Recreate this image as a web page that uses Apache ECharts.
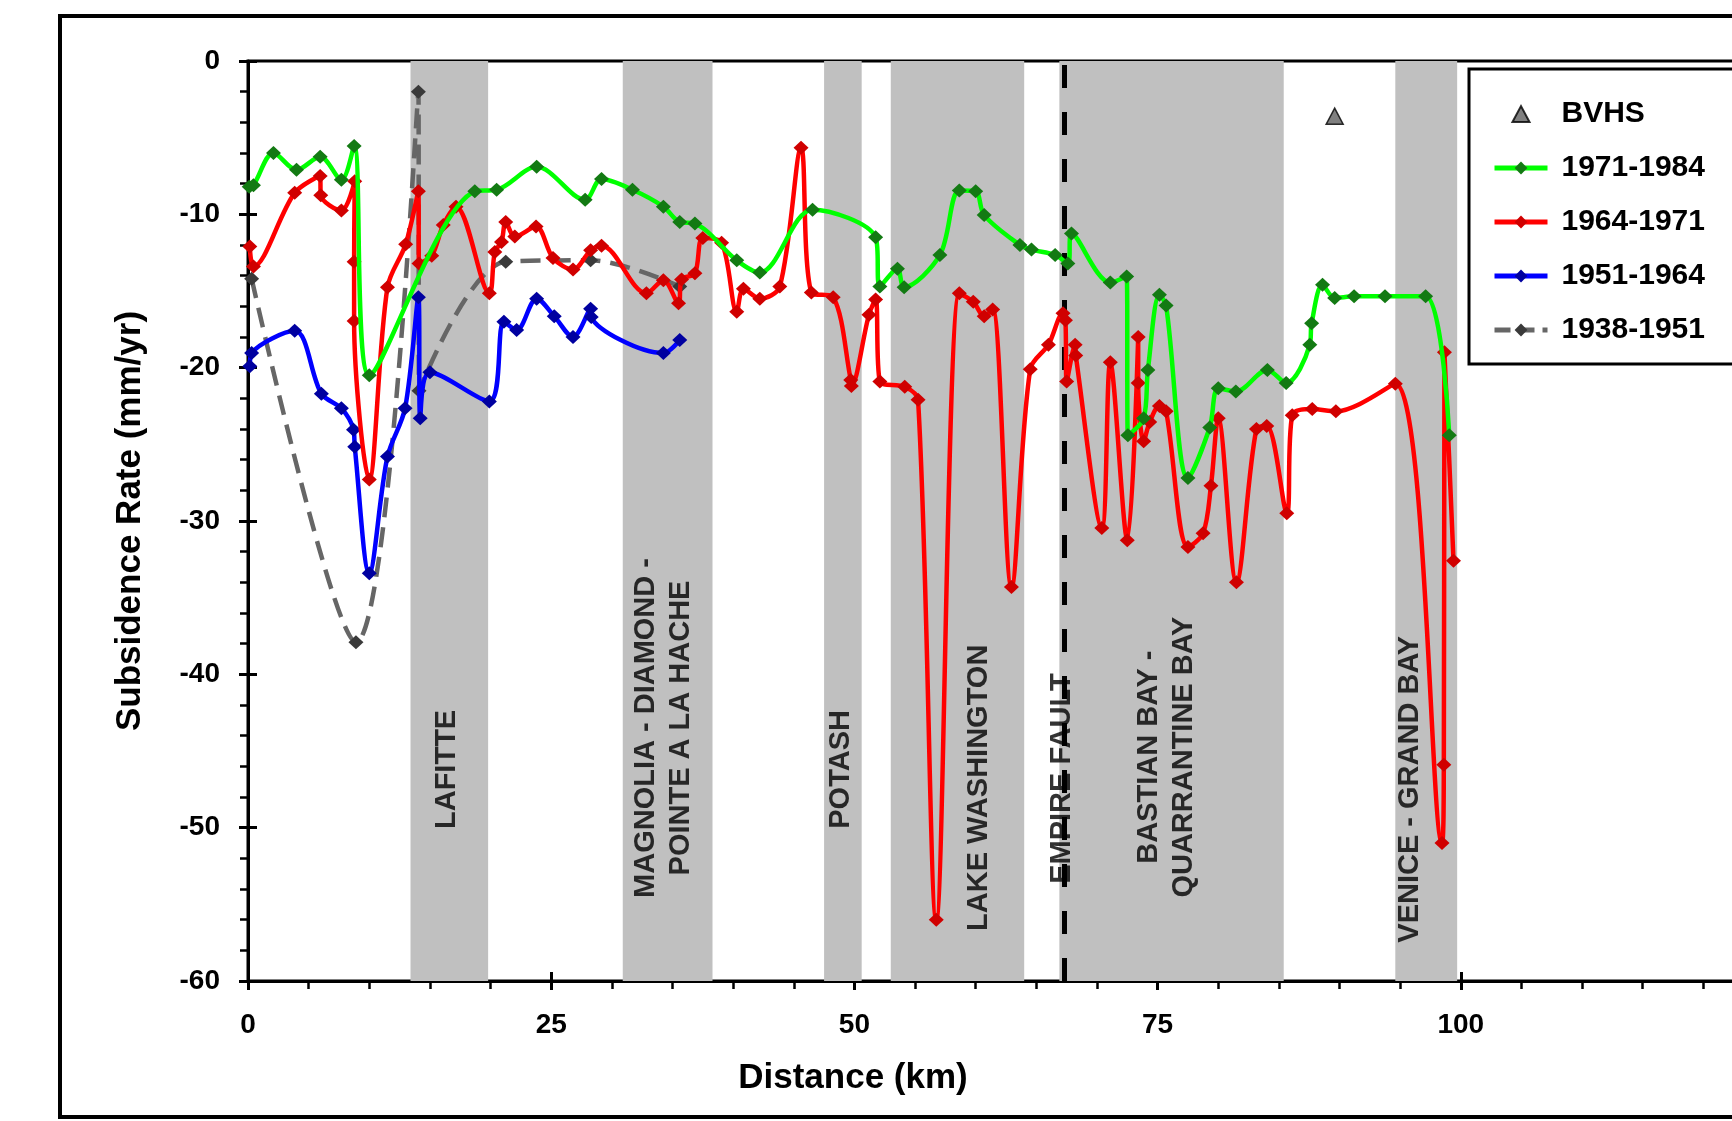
<!DOCTYPE html>
<html>
<head>
<meta charset="utf-8">
<script src="https://cdn.jsdelivr.net/npm/echarts@6/dist/echarts.min.js"></script>
<style>
html,body{margin:0;padding:0;background:#fff;}
#chart{width:1732px;height:1121px;}
</style>
</head>
<body>
<div id="chart"></div>
<script>
// ---- Data (distance km, subsidence rate mm/yr) ----
const s1971_1984 = [[0.1,-8.2],[0.45,-8.1],[2.1,-6.0],[4.0,-7.1],[5.95,-6.25],[7.7,-7.75],[8.75,-5.55],[10.0,-20.5],[18.7,-8.5],[20.5,-8.4],[23.8,-6.9],[27.8,-9.05],[29.15,-7.7],[31.7,-8.4],[34.25,-9.5],[35.6,-10.5],[36.85,-10.6],[40.3,-13.0],[42.2,-13.8],[46.55,-9.7],[51.75,-11.5],[52.1,-14.7],[53.55,-13.55],[54.1,-14.75],[57.05,-12.65],[58.65,-8.45],[60.0,-8.5],[60.7,-10.05],[63.65,-12.0],[64.6,-12.3],[66.55,-12.65],[67.6,-13.2],[67.9,-11.25],[71.1,-14.45],[72.45,-14.05],[72.55,-24.4],[73.85,-23.3],[74.2,-20.15],[75.15,-15.25],[75.7,-15.95],[77.5,-27.2],[79.3,-23.9],[80.0,-21.35],[81.45,-21.55],[84.05,-20.15],[85.6,-21.0],[87.55,-18.5],[87.7,-17.1],[88.6,-14.6],[89.6,-15.45],[91.2,-15.35],[93.75,-15.35],[97.1,-15.35],[99.05,-24.4]];
const s1964_1971 = [[0.15,-12.1],[0.45,-13.4],[3.85,-8.6],[5.95,-7.5],[6.0,-8.75],[7.7,-9.75],[8.8,-7.85],[8.75,-13.1],[8.75,-16.95],[10.0,-27.3],[11.5,-14.75],[13.0,-11.95],[14.05,-8.5],[14.1,-13.2],[15.15,-12.7],[16.1,-10.7],[17.15,-9.5],[19.9,-15.15],[20.35,-12.45],[20.9,-11.8],[21.25,-10.5],[22.0,-11.45],[23.75,-10.8],[25.15,-12.85],[26.8,-13.6],[28.25,-12.35],[29.15,-12.05],[32.85,-15.15],[34.25,-14.3],[35.5,-15.8],[35.75,-14.25],[36.85,-13.85],[37.5,-11.55],[39.05,-11.85],[40.3,-16.35],[40.85,-14.85],[42.2,-15.5],[43.85,-14.7],[45.6,-5.65],[46.45,-15.1],[48.25,-15.4],[49.7,-20.8],[49.75,-21.2],[51.2,-16.55],[51.75,-15.55],[52.1,-20.9],[54.15,-21.25],[55.25,-22.1],[56.75,-56.0],[58.65,-15.15],[59.8,-15.7],[60.7,-16.65],[61.4,-16.2],[62.95,-34.3],[64.5,-20.1],[66.0,-18.5],[67.2,-16.45],[67.4,-16.9],[67.5,-20.9],[68.2,-18.5],[68.25,-19.2],[70.4,-30.45],[71.1,-19.65],[72.5,-31.25],[73.4,-18.0],[73.4,-21.0],[73.85,-24.8],[74.35,-23.55],[75.15,-22.5],[75.7,-22.85],[77.5,-31.7],[78.75,-30.8],[79.4,-27.7],[80.0,-23.3],[81.5,-34.0],[83.15,-24.0],[84.0,-23.8],[85.65,-29.5],[86.1,-23.1],[87.75,-22.7],[89.7,-22.85],[94.6,-21.05],[98.45,-51.0],[98.6,-45.9],[98.65,-19.0],[99.4,-32.6]];
const s1951_1964 = [[0.15,-19.9],[0.3,-19.05],[3.85,-17.6],[6.05,-21.7],[7.7,-22.65],[8.7,-24.05],[8.8,-25.15],[10.0,-33.4],[11.5,-25.8],[12.95,-22.65],[14.05,-15.4],[14.2,-23.3],[15.0,-20.3],[19.9,-22.2],[21.1,-17.0],[22.15,-17.55],[23.8,-15.5],[25.25,-16.65],[26.8,-18.0],[28.25,-16.15],[28.3,-16.7],[34.25,-19.05],[35.6,-18.2]];
const s1938_1951 = [[0.3,-14.2],[8.9,-37.9],[14.05,-2.0],[14.1,-21.5],[21.25,-13.1],[28.25,-13.0],[35.6,-14.7]];
const bvhs = [[89.6,-3.6]];

const bandStart = [13.4, 30.9, 47.5, 53.0, 66.9, 94.6];
const bandEnd   = [19.8, 38.3, 50.6, 64.0, 85.4, 99.7];
const faultX = 67.3;

const regionNames = ['LAFITTE', 'MAGNOLIA - DIAMOND -\nPOINTE A LA HACHE', 'POTASH', 'LAKE WASHINGTON', 'EMPIRE FAULT', 'BASTIAN BAY -\nQUARRANTINE BAY', 'VENICE - GRAND BAY'];
const regionLabelX = [16.4, 34.3, 48.9, 60.25, 67.15, 75.7, 95.8];
const regionLabelY = [-46.2, -43.5, -46.2, -47.4, -46.8, -45.4, -47.5];

const xTicks = {min: 0, max: 125, interval: 25};
const yTicks = {min: -60, max: 0, interval: 10};
const legendNames = ['BVHS', '1971-1984', '1964-1971', '1951-1964', '1938-1951'];

// ---- Chart ----
const FONT = "'Liberation Sans', Arial, Helvetica, sans-serif";
const chart = echarts.init(document.getElementById('chart'), null, {renderer: 'canvas'});

function lineSeries(name, data, lineColor, markColor, z, dashed) {
  return {
    name: name, type: 'line', data: data, smooth: 0.33, z: z,
    symbol: 'diamond', symbolSize: [15, 14], showAllSymbol: true,
    lineStyle: {color: lineColor, width: 4.5, type: dashed ? [20, 10] : 'solid'},
    itemStyle: {color: markColor},
    emphasis: {disabled: true}
  };
}

const legendData = legendNames.map(n => {
  if (n === 'BVHS') return {name: n, icon: 'path://M0 15 L8 0 L16 15 Z'};
  if (n === '1938-1951') return {name: n, lineStyle: {width: 5, type: [16, 8]}};
  return {name: n, lineStyle: {width: 5}};
});

const option = {
  animation: false,
  textStyle: {fontFamily: FONT},
  graphic: [{
    type: 'rect', z: 0, silent: true,
    shape: {x: 60, y: 16, width: 1800, height: 1101},
    style: {fill: 'none', stroke: '#000', lineWidth: 4}
  }],
  grid: {left: 248, width: 1516, top: 61, height: 920, outerBoundsMode: 'none', containLabel: false,
         show: true, borderColor: '#000', borderWidth: 3, backgroundColor: 'transparent'},
  legend: {
    data: legendData, orient: 'vertical', left: 1469, top: 69,
    padding: [30, 80, 19, 23], itemGap: 24, itemWidth: 53, itemHeight: 16,
    borderColor: '#000', borderWidth: 3, backgroundColor: '#fff',
    textStyle: {fontSize: 30, fontWeight: 'bold', color: '#000', fontFamily: FONT, padding: [0, 0, 0, 9], lineHeight: 30},
    selectedMode: false
  },
  xAxis: [{
    type: 'value', min: xTicks.min, max: xTicks.max, interval: xTicks.interval, position: 'bottom',
    name: 'Distance (km)', nameLocation: 'middle', nameGap: 80,
    nameTextStyle: {fontSize: 35, fontWeight: 'bold', color: '#000', fontFamily: FONT, padding: [0, 306, 0, 0]},
    axisLine: {onZero: false, lineStyle: {color: '#000', width: 3}},
    axisTick: {length: 9, lineStyle: {color: '#000', width: 3}},
    minorTick: {show: true, splitNumber: 5, length: 8, lineStyle: {color: '#000', width: 2.5}},
    axisLabel: {fontSize: 28, fontWeight: 'bold', color: '#000', margin: 30, fontFamily: FONT},
    splitLine: {show: false}
  }, {
    type: 'value', min: xTicks.min, max: xTicks.max, interval: xTicks.interval, position: 'bottom',
    axisLine: {show: false, onZero: false},
    axisTick: {inside: true, length: 9, lineStyle: {color: '#000', width: 3}},
    axisLabel: {show: false}, splitLine: {show: false}
  }],
  yAxis: [{
    type: 'value', min: yTicks.min, max: yTicks.max, interval: yTicks.interval, position: 'left',
    name: 'Subsidence Rate (mm/yr)', nameLocation: 'middle', nameGap: 100, nameRotate: 90,
    nameTextStyle: {fontSize: 35, fontWeight: 'bold', color: '#000', fontFamily: FONT},
    axisLine: {show: true, onZero: false, lineStyle: {color: '#000', width: 3}},
    axisTick: {show: true, length: 9, lineStyle: {color: '#000', width: 3}},
    minorTick: {show: true, splitNumber: 5, length: 8, lineStyle: {color: '#000', width: 2.5}},
    axisLabel: {fontSize: 28, fontWeight: 'bold', color: '#000', margin: 28, fontFamily: FONT},
    splitLine: {show: false}
  }, {
    type: 'value', min: yTicks.min, max: yTicks.max, interval: yTicks.interval, position: 'left',
    axisLine: {show: false, onZero: false},
    axisTick: {show: true, inside: true, length: 9, lineStyle: {color: '#000', width: 3}},
    axisLabel: {show: false}, splitLine: {show: false}
  }],
  series: [
    {
      name: 'bands', type: 'line', data: [], z: 1, silent: true,
      markArea: {
        silent: true,
        itemStyle: {color: '#c0c0c0'},
        data: bandStart.map((s, i) => [{xAxis: s}, {xAxis: bandEnd[i]}])
      },
      markLine: {
        silent: true, symbol: ['none', 'none'],
        label: {show: false},
        lineStyle: {color: '#000', width: 5, type: [23, 24]},
        data: [{xAxis: faultX}]
      }
    },
    {
      name: 'regions', type: 'scatter', z: 2, silent: true,
      symbol: 'circle', symbolSize: 2, itemStyle: {color: 'rgba(0,0,0,0)'},
      labelLayout: {hideOverlap: false},
      data: regionNames.map((n, i) => ({name: n, value: [regionLabelX[i], regionLabelY[i]]})),
      label: {
        show: true, position: 'inside', rotate: 90, formatter: p => p.name,
        fontSize: 29, fontWeight: 'bold', color: '#000', fontFamily: FONT, lineHeight: 35, align: 'center', verticalAlign: 'middle'
      }
    },
    lineSeries('1938-1951', s1938_1951, '#666666', '#3a3a3a', 3, true),
    lineSeries('1951-1964', s1951_1964, '#0000ff', '#0000a0', 4, false),
    lineSeries('1964-1971', s1964_1971, '#ff0000', '#d00000', 5, false),
    lineSeries('1971-1984', s1971_1984, '#00ff00', '#137a13', 6, false),
    {
      name: 'BVHS', type: 'scatter', data: bvhs, z: 7,
      symbol: 'triangle', symbolSize: [17, 16],
      itemStyle: {color: '#606060', borderColor: '#000', borderWidth: 1.5}
    }
  ]
};
chart.setOption(option);
</script>
</body>
</html>
